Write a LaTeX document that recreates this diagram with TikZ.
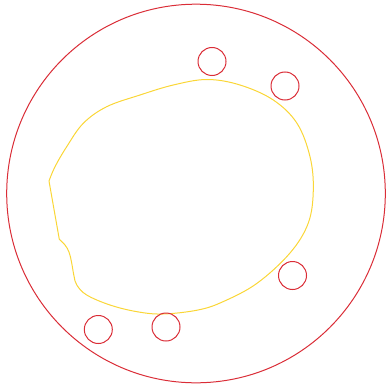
\documentclass[tikz,border=0pt]{standalone}
\usepackage{tikz}
\usetikzlibrary{positioning}
\definecolor{cring}{RGB}{218,45,55}
\definecolor{cblob}{RGB}{250,214,55}

\begin{document}
\begin{tikzpicture}[x=1pt, y=-1pt]
        \useasboundingbox (0,0) rectangle (387,385);
        % --- outer ring
        \draw[cring, line width=1pt] (196,193.5) circle (189.3);
        % --- inner blob
        \draw[cblob, line width=1pt] (49,181) -- (59.3,239.3)
          plot[smooth, tension=0.6] coordinates {(59.3,239.3) (65,245) (69,252) (71.5,262) (74,276) (76.8,285) (86.7,295)
            (110,305) (137,311.7) (163,314) (198,310) (223,301.7) (257,283.3) (290,253) (308.3,223) (313.3,190)
            (310,156.7) (297,123.3) (273.3,100) (240,85) (207,79.5) (173.3,85) (140,95) (106.7,106.7) (83.3,123.3)
            (66.7,146.7) (55,166.7) (49,181)};
        % --- small holes
        \foreach \p in {(212,61.5), (285,86), (292.5,275.5), (166,327), (98.3,329.5)}{
          \draw[cring, line width=1pt] \p circle (14);}
      \end{tikzpicture}
\end{document}
